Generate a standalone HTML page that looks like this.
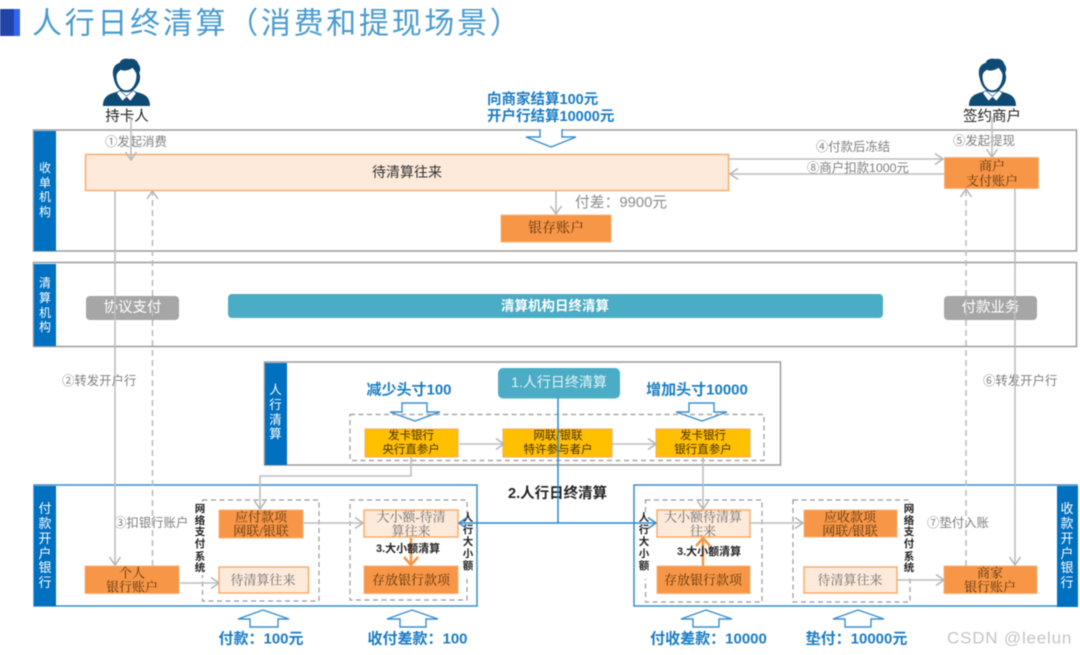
<!DOCTYPE html>
<html lang="zh"><head><meta charset="utf-8"><title>人行日终清算</title>
<style>
html,body{margin:0;padding:0;background:#fff;width:1080px;height:655px;overflow:hidden}
svg{display:block;filter:blur(0.4px)}
text{font-family:"Liberation Sans","Noto Sans CJK SC",sans-serif;dominant-baseline:central}
.m{text-anchor:middle}
.side{fill:#fff;font-size:12px;text-anchor:middle}
.g{fill:#7f7f7f;font-size:12.4px}
.s{font-family:"Liberation Serif","Noto Serif CJK SC",serif;font-size:13px;text-anchor:middle;fill:#5b3410}
.sg{font-family:"Liberation Serif","Noto Serif CJK SC",serif;font-size:13px;text-anchor:middle;fill:#6e6e6e}
.b{fill:#1a7cc4;font-size:15px;font-weight:bold}
.v{font-size:10.5px;font-weight:bold;fill:#222;text-anchor:middle}
.k{font-size:11px;font-weight:bold;fill:#222}
.y{font-size:11.5px;fill:#4a3000;text-anchor:middle}
.ln{stroke:#bdbdbd;stroke-width:1.6;fill:none}
.da{stroke:#bdbdbd;stroke-width:1.6;fill:none;stroke-dasharray:6 4}
.dbox{stroke:#999;stroke-width:1.2;fill:none;stroke-dasharray:5 3.5}
.o{fill:#f79646;stroke:#fbb27a;stroke-width:1}
.p{fill:#fdeadb;stroke:#f9a967;stroke-width:1.4}
.yb{fill:#ffc000;stroke:#f9a967;stroke-width:1}
.ar{fill:#fff;stroke:#3a8fd0;stroke-width:1.4}
.fr{fill:#fff;stroke:#9a9a9a;stroke-width:1.5}
.fb{fill:#fff;stroke:#3a8cc9;stroke-width:1.5}
.sb{fill:#0070c0}
</style></head><body>
<svg width="1080" height="655" viewBox="0 0 1080 655" xmlns="http://www.w3.org/2000/svg">
<defs>
<marker id="a" viewBox="0 0 12 12" refX="11" refY="6" markerWidth="12" markerHeight="12" markerUnits="userSpaceOnUse" orient="auto"><path d="M3 0.5L11 6L3 11.5" fill="none" stroke="#b5b5b5" stroke-width="1.5"/></marker>
<marker id="ab" viewBox="0 0 12 12" refX="11" refY="6" markerWidth="12" markerHeight="12" markerUnits="userSpaceOnUse" orient="auto"><path d="M3 0.5L11 6L3 11.5" fill="none" stroke="#3a8cc9" stroke-width="1.6"/></marker>
<symbol id="person" viewBox="0 0 50 50">
<path d="M1 49C1 41 5 37 14 35L19 33L25 40L31 33L36 35C45 37 49 41 49 49Z" fill="#0f4a73"/>
<path d="M18 33L25 39L32 33L35 36L29 44L25 40L21 44L15 36Z" fill="#fff" stroke="#0f4a73" stroke-width=".6"/>
<path d="M12 21C9 10 14 6 18 5C19 1 24 0 28 1C32 0 36 2 37 6C40 10 39 13 38 15C40 20 38 26 36 28C33 33 29 35 25 35C20 35 14 31 12 21Z" fill="#0f4a73"/>
<path d="M15 17C16 14 18 13 19 12C23 14 29 12 31 10C33 12 34 14 35 16C36 23 32 33 25 33C18 33 14 24 15 17Z" fill="#fff"/>
</symbol>
</defs>

<!-- title -->
<rect x="0" y="9" width="14" height="27" fill="#2244a8"/><rect x="14" y="9" width="6" height="27" fill="#3366ee"/>
<text x="32" y="24" font-size="30" fill="#4a9bd0" letter-spacing="2.7">人行日终清算（消费和提现场景）</text>

<use href="#person" x="102" y="58" width="49" height="49"/>
<use href="#person" x="968" y="58" width="49" height="49"/>
<text x="127" y="117" class="m" font-size="14.5" fill="#222">持卡人</text>
<text x="992" y="117" class="m" font-size="14.5" fill="#222">签约商户</text>
<text x="487" y="100" font-size="14.5" font-weight="bold" fill="#1a7cc4">向商家结算100元</text>
<text x="487" y="117" font-size="14.5" font-weight="bold" fill="#1a7cc4">开户行结算10000元</text>

<!-- acquirer -->
<rect class="fr" x="33.500" y="130" width="1043" height="121"/>
<rect class="sb" x="34" y="131" width="22" height="120"/>
<text class="side"><tspan x="45" y="168">收</tspan><tspan x="45" y="183">单</tspan><tspan x="45" y="197">机</tspan><tspan x="45" y="212">构</tspan></text>
<path class="ar" d="M540 129V137H526L551 147L576 137H562V129"/>
<rect class="p" x="85.500" y="154.500" width="643" height="36"/>
<text x="407" y="172" class="m" font-size="14" fill="#333">待清算往来</text>
<rect class="o" x="501" y="215" width="110" height="27"/>
<text x="556" y="229" class="s" style="font-size:14px">银存账户</text>
<text x="575" y="203" font-size="14.8" fill="#8c8c8c">付差：9900元</text>
<path class="ln" d="M556 191V214" marker-end="url(#a)"/>
<rect class="o" x="944.500" y="157.500" width="94" height="31"/>
<text x="992" y="166" class="s">商户</text><text x="992" y="181" class="s">支付账户</text>
<path class="ln" d="M729 159H943" marker-end="url(#a)"/>
<path class="ln" d="M944 174H730" marker-end="url(#a)"/>
<text x="853" y="147" class="g m">④付款后冻结</text>
<text x="858" y="168" class="g m">⑧商户扣款1000元</text>
<text x="105" y="142" class="g">①发起消费</text>
<text x="953" y="141" class="g">⑤发起提现</text>

<!-- clearing -->
<rect class="fr" x="33.500" y="262.500" width="1043" height="84"/>
<rect class="sb" x="34" y="264" width="22" height="82"/>
<text class="side"><tspan x="45" y="283">清</tspan><tspan x="45" y="298">算</tspan><tspan x="45" y="313">机</tspan><tspan x="45" y="327">构</tspan></text>
<rect x="86" y="296" width="93" height="24" rx="4" fill="#a6a6a6"/>
<text x="132.500" y="308" class="m" font-size="14.5" fill="#fff">协议支付</text>
<rect x="228" y="294" width="655" height="24" rx="4" fill="#4bacc6"/>
<text x="555" y="306" class="m" font-size="13.500" font-weight="bold" fill="#fff">清算机构日终清算</text>
<rect x="944" y="296" width="93" height="24" rx="4" fill="#a6a6a6"/>
<text x="990.500" y="308" class="m" font-size="14.5" fill="#fff">付款业务</text>
<text x="62" y="381" class="g">②转发开户行</text>
<text x="983" y="381" class="g">⑥转发开户行</text>

<!-- PBOC -->
<rect class="fr" x="264.500" y="362" width="516" height="103"/>
<rect class="sb" x="265" y="363" width="22" height="102"/>
<text class="side" style="font-size:12.5px"><tspan x="275.500" y="390">人</tspan><tspan x="275.500" y="405">行</tspan><tspan x="275.500" y="420">清</tspan><tspan x="275.500" y="434">算</tspan></text>
<text x="409" y="390" class="b m">减少头寸100</text>
<text x="697" y="390" class="b m">增加头寸10000</text>
<path class="ar" d="M402 403V412H390L415 421L440 412H427V403Z"/>
<path class="ar" d="M689 403V412H676L702 421L727 412H714V403Z"/>
<rect class="dbox" x="350" y="414.500" width="414" height="46"/>
<rect class="yb" x="365" y="429" width="93" height="28"/>
<rect class="yb" x="503" y="429" width="109" height="28"/>
<rect class="yb" x="656" y="429" width="94" height="28"/>
<text x="411" y="436" class="y">发卡银行</text><text x="411" y="450" class="y">央行直参户</text>
<text x="558" y="436" class="y">网联/银联</text><text x="558" y="450" class="y">特许参与者户</text>
<text x="703" y="436" class="y">发卡银行</text><text x="703" y="450" class="y">银行直参户</text>
<path class="ln" d="M459 444H504" marker-end="url(#a)"/>
<path class="ln" d="M612 444H656" marker-end="url(#a)"/>

<!-- payer bank -->
<rect class="fb" x="34" y="485" width="443" height="121"/>
<rect class="sb" x="34" y="486" width="22" height="120"/>
<text class="side" style="font-size:13px"><tspan x="45" y="508">付</tspan><tspan x="45" y="523">款</tspan><tspan x="45" y="538">开</tspan><tspan x="45" y="553">户</tspan><tspan x="45" y="567">银</tspan><tspan x="45" y="582">行</tspan></text>
<rect class="dbox" x="202.500" y="500" width="116.500" height="101"/>
<rect class="dbox" x="350" y="500" width="117" height="100"/>
<rect class="o" x="85" y="566" width="94" height="27.500"/>
<text x="132" y="573" class="s">个人</text><text x="132" y="587" class="s">银行账户</text>
<rect class="o" x="219" y="510" width="84" height="28"/>
<text x="261" y="517" class="s">应付款项</text><text x="261" y="531" class="s">网联/银联</text>
<rect class="p" x="219" y="567" width="89.500" height="26"/>
<text x="263" y="580" class="sg">待清算往来</text>
<rect class="p" x="364" y="510" width="94" height="27"/>
<text x="411" y="517" class="sg">大小额-待清</text><text x="411" y="531" class="sg">算往来</text>
<rect class="o" x="364" y="566" width="94" height="27.500"/>
<text x="411" y="580" class="s">存放银行款项</text>
<rect x="194" y="503" width="13" height="72" fill="#fff"/>
<text class="v"><tspan x="200" y="509">网</tspan><tspan x="200" y="521">络</tspan><tspan x="200" y="532">支</tspan><tspan x="200" y="544">付</tspan><tspan x="200" y="557">系</tspan><tspan x="200" y="568">统</tspan></text>
<rect x="462" y="513" width="12" height="66" fill="#fff"/>
<text class="v"><tspan x="468" y="518">人</tspan><tspan x="468" y="530">行</tspan><tspan x="468" y="542">大</tspan><tspan x="468" y="554">小</tspan><tspan x="468" y="566">额</tspan></text>
<text x="114" y="523" class="g">③扣银行账户</text>
<path class="ln" d="M180 583H219" marker-end="url(#a)"/>
<path class="ln" d="M303 523H363" marker-end="url(#a)"/>
<path d="M411 538V564M404 557L411 565L418 557" fill="none" stroke="#f79646" stroke-width="2.500"/>
<text x="376" y="549" class="k">3.大小额清算</text>

<!-- payee bank -->
<rect class="fb" x="634" y="485" width="443" height="121"/>
<rect class="sb" x="1057" y="486" width="21" height="121"/>
<text class="side" style="font-size:13px"><tspan x="1067" y="508">收</tspan><tspan x="1067" y="523">款</tspan><tspan x="1067" y="538">开</tspan><tspan x="1067" y="553">户</tspan><tspan x="1067" y="567">银</tspan><tspan x="1067" y="582">行</tspan></text>
<rect class="dbox" x="645.500" y="500" width="116.500" height="102"/>
<rect class="dbox" x="793" y="500" width="117" height="102"/>
<rect class="p" x="657" y="510" width="93" height="27"/>
<text x="703" y="517" class="sg">大小额待清算</text><text x="703" y="531" class="sg">往来</text>
<rect class="o" x="657" y="566" width="93" height="27.500"/>
<text x="703" y="580" class="s">存放银行款项</text>
<rect class="o" x="804" y="510" width="93" height="27"/>
<text x="850" y="517" class="s">应收款项</text><text x="850" y="531" class="s">网联/银联</text>
<rect class="p" x="804" y="567" width="93" height="26"/>
<text x="850" y="580" class="sg">待清算往来</text>
<rect class="o" x="944" y="566" width="93" height="27.500"/>
<text x="990" y="573" class="s">商家</text><text x="990" y="587" class="s">银行账户</text>
<rect x="638" y="513" width="12" height="66" fill="#fff"/>
<text class="v"><tspan x="644" y="518">人</tspan><tspan x="644" y="530">行</tspan><tspan x="644" y="542">大</tspan><tspan x="644" y="554">小</tspan><tspan x="644" y="566">额</tspan></text>
<rect x="903" y="503" width="13" height="72" fill="#fff"/>
<text class="v"><tspan x="909" y="509">网</tspan><tspan x="909" y="521">络</tspan><tspan x="909" y="532">支</tspan><tspan x="909" y="544">付</tspan><tspan x="909" y="557">系</tspan><tspan x="909" y="568">统</tspan></text>
<text x="927" y="523" class="g">⑦垫付入账</text>
<path class="ln" d="M750 523H803" marker-end="url(#a)"/>
<path class="ln" d="M897 580H944" marker-end="url(#a)"/>
<path d="M703 566V539M696 546L703 538L710 546" fill="none" stroke="#f79646" stroke-width="2.500"/>
<text x="677" y="552" class="k">3.大小额清算</text>

<text x="508" y="494" font-size="14.5" font-weight="bold" fill="#222">2.人行日终清算</text>

<!-- long connectors -->
<path class="ln" d="M131 117V160" marker-end="url(#a)"/>
<path class="ln" d="M992 117V157" marker-end="url(#a)"/>
<path class="ln" d="M115 191V565" marker-end="url(#a)"/>
<path class="da" d="M152.500 566V191" marker-end="url(#a)"/>
<path class="ln" d="M1015 188V565" marker-end="url(#a)"/>
<path class="da" d="M966 566V189" marker-end="url(#a)"/>
<path class="ln" d="M411 457V476H260V509" marker-end="url(#a)"/>
<path class="ln" d="M703 457V509" marker-end="url(#a)"/>

<!-- teal + blue -->
<rect x="498" y="368" width="122" height="30.500" rx="5" fill="#4bacc6"/>
<text x="559" y="382" class="m" font-size="14" fill="#e6f4f8">1.人行日终清算</text>
<path d="M558 398V523" stroke="#2a88cc" stroke-width="1.500" fill="none"/>
<path d="M558 523H459" stroke="#2a88cc" stroke-width="1.500" fill="none" marker-end="url(#ab)"/>
<path d="M558 523H656" stroke="#2a88cc" stroke-width="1.500" fill="none" marker-end="url(#ab)"/>

<!-- bottom arrows -->
<path class="ar" d="M263 610L238 619H250V627H278V619H289Z"/>
<path class="ar" d="M412 610L387 619H400V627H426V619H438Z"/>
<path class="ar" d="M706 610L681 619H693V627H719V619H732Z"/>
<path class="ar" d="M858 610L833 619H845V627H871V619H884Z"/>
<text x="261" y="639" class="b m">付款：100元</text>
<text x="417.500" y="639" class="b m">收付差款：100</text>
<text x="708.500" y="639" class="b m">付收差款：10000</text>
<text x="856.500" y="639" class="b m">垫付：10000元</text>
<text x="947" y="638" font-size="17" fill="#c4c4c4" letter-spacing=".8">CSDN @leelun</text>
</svg>
</body></html>
